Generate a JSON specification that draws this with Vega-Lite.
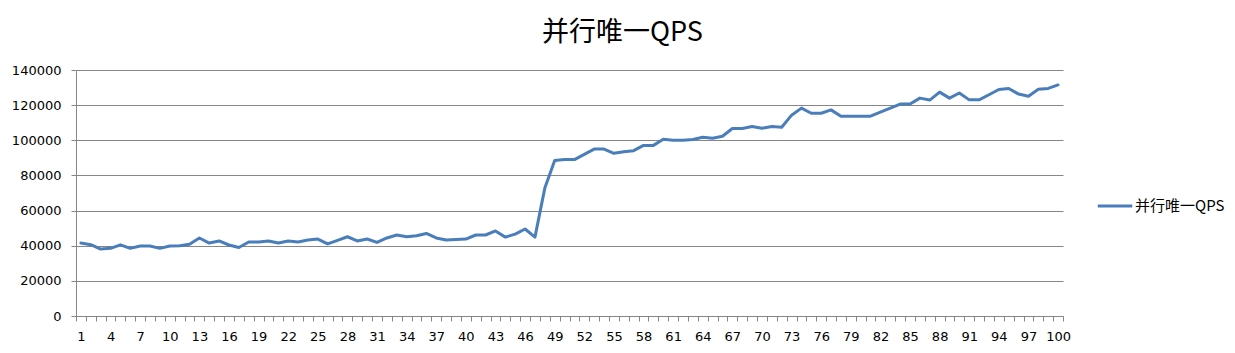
{
  "$schema": "https://vega.github.io/schema/vega-lite/v6.json",
  "autosize": "none",
  "width": 987,
  "height": 246,
  "padding": {"left": 76, "top": 70, "right": 172, "bottom": 37},
  "background": "white",
  "title": {
    "text": "并行唯一QPS",
    "font": "Noto Sans CJK SC",
    "fontSize": 27,
    "fontWeight": "normal",
    "color": "#000000",
    "anchor": "middle",
    "dx": 53,
    "offset": 17
  },
  "data": {
    "values": [
      {"x": 1, "qps": 41500, "s": "并行唯一QPS"},
      {"x": 2, "qps": 40600, "s": "并行唯一QPS"},
      {"x": 3, "qps": 38100, "s": "并行唯一QPS"},
      {"x": 4, "qps": 38500, "s": "并行唯一QPS"},
      {"x": 5, "qps": 40500, "s": "并行唯一QPS"},
      {"x": 6, "qps": 38500, "s": "并行唯一QPS"},
      {"x": 7, "qps": 39800, "s": "并行唯一QPS"},
      {"x": 8, "qps": 39800, "s": "并行唯一QPS"},
      {"x": 9, "qps": 38500, "s": "并行唯一QPS"},
      {"x": 10, "qps": 39800, "s": "并行唯一QPS"},
      {"x": 11, "qps": 40000, "s": "并行唯一QPS"},
      {"x": 12, "qps": 40800, "s": "并行唯一QPS"},
      {"x": 13, "qps": 44400, "s": "并行唯一QPS"},
      {"x": 14, "qps": 41500, "s": "并行唯一QPS"},
      {"x": 15, "qps": 42700, "s": "并行唯一QPS"},
      {"x": 16, "qps": 40400, "s": "并行唯一QPS"},
      {"x": 17, "qps": 39000, "s": "并行唯一QPS"},
      {"x": 18, "qps": 42100, "s": "并行唯一QPS"},
      {"x": 19, "qps": 42100, "s": "并行唯一QPS"},
      {"x": 20, "qps": 42700, "s": "并行唯一QPS"},
      {"x": 21, "qps": 41500, "s": "并行唯一QPS"},
      {"x": 22, "qps": 42700, "s": "并行唯一QPS"},
      {"x": 23, "qps": 42100, "s": "并行唯一QPS"},
      {"x": 24, "qps": 43200, "s": "并行唯一QPS"},
      {"x": 25, "qps": 43800, "s": "并行唯一QPS"},
      {"x": 26, "qps": 41000, "s": "并行唯一QPS"},
      {"x": 27, "qps": 43000, "s": "并行唯一QPS"},
      {"x": 28, "qps": 45100, "s": "并行唯一QPS"},
      {"x": 29, "qps": 42700, "s": "并行唯一QPS"},
      {"x": 30, "qps": 43800, "s": "并行唯一QPS"},
      {"x": 31, "qps": 41900, "s": "并行唯一QPS"},
      {"x": 32, "qps": 44400, "s": "并行唯一QPS"},
      {"x": 33, "qps": 46100, "s": "并行唯一QPS"},
      {"x": 34, "qps": 45100, "s": "并行唯一QPS"},
      {"x": 35, "qps": 45700, "s": "并行唯一QPS"},
      {"x": 36, "qps": 47000, "s": "并行唯一QPS"},
      {"x": 37, "qps": 44400, "s": "并行唯一QPS"},
      {"x": 38, "qps": 43200, "s": "并行唯一QPS"},
      {"x": 39, "qps": 43600, "s": "并行唯一QPS"},
      {"x": 40, "qps": 43800, "s": "并行唯一QPS"},
      {"x": 41, "qps": 46100, "s": "并行唯一QPS"},
      {"x": 42, "qps": 46100, "s": "并行唯一QPS"},
      {"x": 43, "qps": 48400, "s": "并行唯一QPS"},
      {"x": 44, "qps": 44900, "s": "并行唯一QPS"},
      {"x": 45, "qps": 46600, "s": "并行唯一QPS"},
      {"x": 46, "qps": 49500, "s": "并行唯一QPS"},
      {"x": 47, "qps": 44900, "s": "并行唯一QPS"},
      {"x": 48, "qps": 72800, "s": "并行唯一QPS"},
      {"x": 49, "qps": 88500, "s": "并行唯一QPS"},
      {"x": 50, "qps": 89000, "s": "并行唯一QPS"},
      {"x": 51, "qps": 89000, "s": "并行唯一QPS"},
      {"x": 52, "qps": 92000, "s": "并行唯一QPS"},
      {"x": 53, "qps": 95000, "s": "并行唯一QPS"},
      {"x": 54, "qps": 95000, "s": "并行唯一QPS"},
      {"x": 55, "qps": 92600, "s": "并行唯一QPS"},
      {"x": 56, "qps": 93500, "s": "并行唯一QPS"},
      {"x": 57, "qps": 94100, "s": "并行唯一QPS"},
      {"x": 58, "qps": 97100, "s": "并行唯一QPS"},
      {"x": 59, "qps": 97100, "s": "并行唯一QPS"},
      {"x": 60, "qps": 100600, "s": "并行唯一QPS"},
      {"x": 61, "qps": 100000, "s": "并行唯一QPS"},
      {"x": 62, "qps": 100000, "s": "并行唯一QPS"},
      {"x": 63, "qps": 100400, "s": "并行唯一QPS"},
      {"x": 64, "qps": 101700, "s": "并行唯一QPS"},
      {"x": 65, "qps": 101200, "s": "并行唯一QPS"},
      {"x": 66, "qps": 102300, "s": "并行唯一QPS"},
      {"x": 67, "qps": 106700, "s": "并行唯一QPS"},
      {"x": 68, "qps": 106700, "s": "并行唯一QPS"},
      {"x": 69, "qps": 107800, "s": "并行唯一QPS"},
      {"x": 70, "qps": 106800, "s": "并行唯一QPS"},
      {"x": 71, "qps": 107800, "s": "并行唯一QPS"},
      {"x": 72, "qps": 107400, "s": "并行唯一QPS"},
      {"x": 73, "qps": 114300, "s": "并行唯一QPS"},
      {"x": 74, "qps": 118300, "s": "并行唯一QPS"},
      {"x": 75, "qps": 115400, "s": "并行唯一QPS"},
      {"x": 76, "qps": 115400, "s": "并行唯一QPS"},
      {"x": 77, "qps": 117300, "s": "并行唯一QPS"},
      {"x": 78, "qps": 113700, "s": "并行唯一QPS"},
      {"x": 79, "qps": 113700, "s": "并行唯一QPS"},
      {"x": 80, "qps": 113700, "s": "并行唯一QPS"},
      {"x": 81, "qps": 113700, "s": "并行唯一QPS"},
      {"x": 82, "qps": 116000, "s": "并行唯一QPS"},
      {"x": 83, "qps": 118300, "s": "并行唯一QPS"},
      {"x": 84, "qps": 120600, "s": "并行唯一QPS"},
      {"x": 85, "qps": 120600, "s": "并行唯一QPS"},
      {"x": 86, "qps": 124000, "s": "并行唯一QPS"},
      {"x": 87, "qps": 122900, "s": "并行唯一QPS"},
      {"x": 88, "qps": 127400, "s": "并行唯一QPS"},
      {"x": 89, "qps": 124000, "s": "并行唯一QPS"},
      {"x": 90, "qps": 126900, "s": "并行唯一QPS"},
      {"x": 91, "qps": 123000, "s": "并行唯一QPS"},
      {"x": 92, "qps": 123000, "s": "并行唯一QPS"},
      {"x": 93, "qps": 125900, "s": "并行唯一QPS"},
      {"x": 94, "qps": 128900, "s": "并行唯一QPS"},
      {"x": 95, "qps": 129500, "s": "并行唯一QPS"},
      {"x": 96, "qps": 126300, "s": "并行唯一QPS"},
      {"x": 97, "qps": 125100, "s": "并行唯一QPS"},
      {"x": 98, "qps": 129000, "s": "并行唯一QPS"},
      {"x": 99, "qps": 129500, "s": "并行唯一QPS"},
      {"x": 100, "qps": 131500, "s": "并行唯一QPS"}
    ]
  },
  "mark": {"type": "line", "strokeWidth": 3, "strokeJoin": "round", "strokeCap": "round"},
  "encoding": {
    "x": {
      "field": "x",
      "type": "ordinal",
      "scale": {"type": "band", "paddingInner": 0, "paddingOuter": 0},
      "axis": {
        "title": null,
        "labelAngle": 0,
        "labelExpr": "(datum.value - 1) % 3 == 0 ? datum.label : ''",
        "tickBand": "extent",
        "tickSize": 5,
        "tickColor": "#868686",
        "domainColor": "#868686",
        "labelFont": "DejaVu Sans",
        "labelFontSize": 13,
        "labelColor": "#000000",
        "labelPadding": 9,
        "labelOverlap": false,
        "grid": false
      }
    },
    "y": {
      "field": "qps",
      "type": "quantitative",
      "scale": {"domain": [0, 140000], "nice": false},
      "axis": {
        "title": null,
        "values": [0, 20000, 40000, 60000, 80000, 100000, 120000, 140000],
        "format": "d",
        "grid": true,
        "gridColor": "#868686",
        "gridWidth": 1,
        "tickSize": 5,
        "tickColor": "#868686",
        "domainColor": "#868686",
        "labelFont": "DejaVu Sans",
        "labelFontSize": 13,
        "labelColor": "#000000",
        "labelPadding": 10
      }
    },
    "color": {
      "field": "s",
      "type": "nominal",
      "scale": {"range": ["#4a7ebb"]},
      "legend": {
        "title": null,
        "orient": "none",
        "legendX": 1020,
        "legendY": 117,
        "padding": 0,
        "symbolType": "stroke",
        "symbolSize": 1190,
        "symbolStrokeWidth": 3,
        "labelFont": "Noto Sans CJK SC",
        "labelFontSize": 15,
        "labelColor": "#000000",
        "labelOffset": 1
      }
    }
  },
  "config": {
    "view": {"stroke": null},
    "axis": {"domainWidth": 1, "tickWidth": 1}
  }
}
